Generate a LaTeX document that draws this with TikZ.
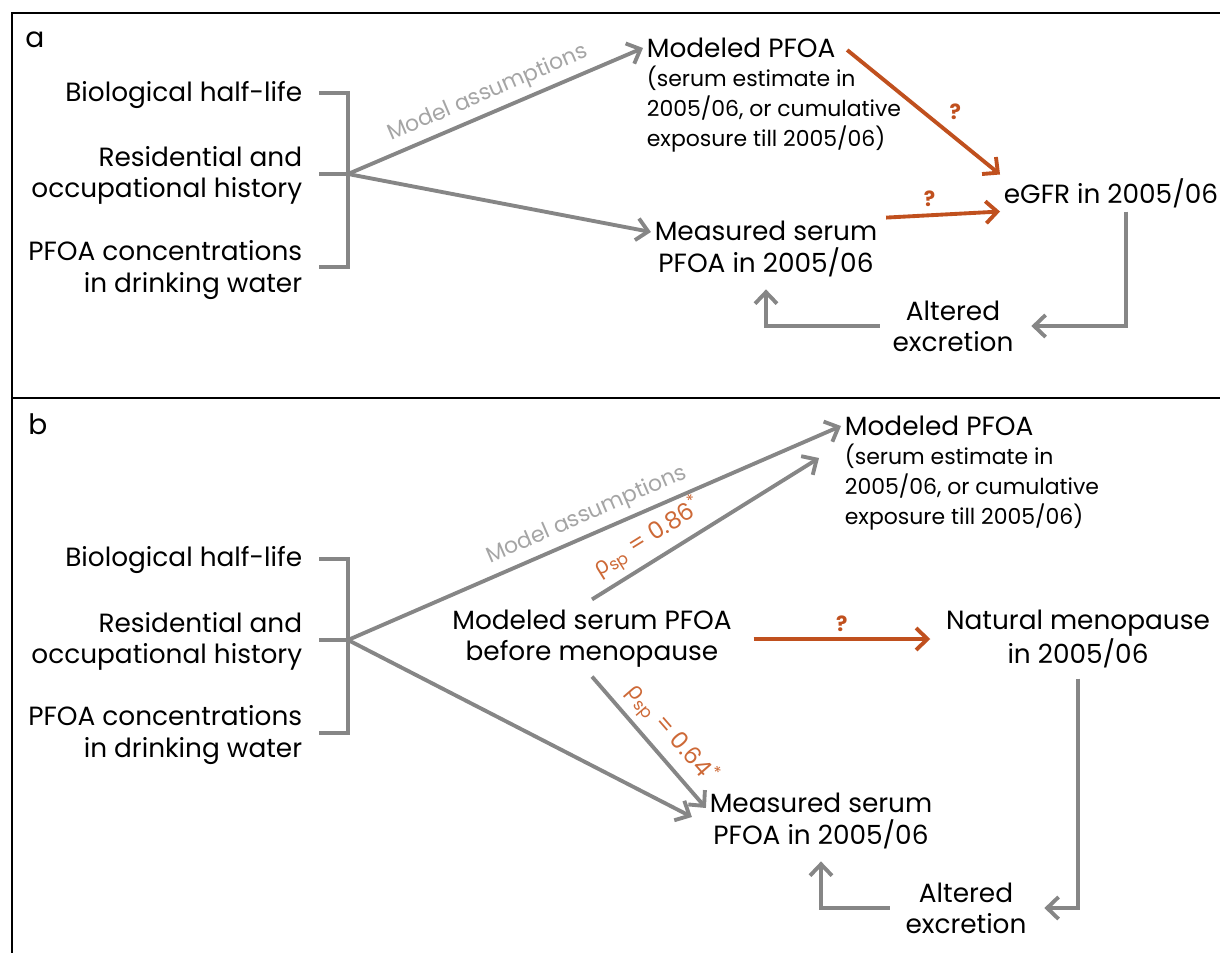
\documentclass[tikz,border=0pt]{standalone}
\usepackage{fontspec}
\setmainfont{Poppins}
\newfontfamily\greekfont{Open Sans}
\usetikzlibrary{arrows.meta,calc}
\definecolor{linegray}{RGB}{134,134,134}
\definecolor{labelgray}{RGB}{165,165,165}
\definecolor{rust}{RGB}{192,80,30}
\definecolor{rholabel}{RGB}{205,105,55}
\newcommand{\rhosp}[1]{{\greekfont ρ}\textsubscript{sp} = #1\textsuperscript{*}}

\begin{document}
\begin{tikzpicture}[x=0.02cm,y=-0.02cm,
	txt/.style={font=\fontsize{15}{17.7}\selectfont, inner sep=2pt},
	subtxt/.style={font=\fontsize{12.5}{17}\selectfont, inner sep=2pt, align=left},
	link/.style={draw=linegray, line width=2.2pt},
	arr/.style={link, -{Straight Barb[length=6.5pt,width=12.5pt]}},
	redarr/.style={draw=rust, line width=2.2pt, -{Straight Barb[length=6.5pt,width=12.5pt]}},
	tag/.style={font=\fontsize{12.5}{14}\selectfont, text=labelgray, sloped, above},
	qmark/.style={font=\bfseries\fontsize{12}{14}\selectfont, text=rust},
	rho/.style={font=\fontsize{13.5}{15}\selectfont, text=rholabel, sloped, above}]
		\useasboundingbox (0,0) rectangle (1220,953);

		% Panel frames
		\draw[line width=1.7pt] (1220,13) -- (12,13) -- (12,953);
		\draw[line width=1.7pt] (12,398) -- (1220,398);

		% Panel a
		\node[font=\fontsize{16}{18}\selectfont] (labA) at (35,40) {a};
		\node[txt, anchor=east] (bioA) at (306,95) {Biological half-life};
		\node[txt, anchor=east, align=right] (resA) at (306,175) {Residential and\\occupational history};
		\node[txt, anchor=east, align=right] (concA) at (306,270) {PFOA concentrations\\in drinking water};
		\coordinate (hubA) at (348,174);
		\draw[link] (319,93) -| (348,267) -- (319,267);
		\draw[link] (319,174) -- (hubA);

		\node[txt, anchor=west] (modA) at (643,48) {Modeled PFOA};
		\node[subtxt, anchor=north west] (modAsub) at (643,62) {(serum estimate in\\2005/06, or cumulative\\exposure till 2005/06)};
		\node[txt, align=center] (measA) at (766,249) {Measured serum\\PFOA in 2005/06};
		\node[txt] (eGFR) at (1111,193) {eGFR in 2005/06};
		\node[txt, align=center] (altA) at (953,326) {Altered\\excretion};

		\draw[arr] (hubA) -- node[tag, midway] {Model assumptions} (modA.west);
		\draw[arr] (hubA) -- ($(measA.west)+(0,-17)$);
		\draw[redarr] ($(modA.east)+(8,2)$) -- node[qmark, pos=0.62, above right] {?} (eGFR.north west);
		\draw[redarr] ($(measA.north east)+(5,0)$) -- node[qmark, above left] {?} (eGFR.south west);
		\draw[arr] ($(eGFR.south)+(15,0)$) |- ($(altA.east)+(14,0)$);
		\draw[arr] ($(altA.west)+(-9,0)$) -| ($(measA.south)+(0,9)$);

		% Panel b
		\node[font=\fontsize{16}{18}\selectfont] (labB) at (38,424) {b};
		\node[txt, anchor=east] (bioB) at (306,560) {Biological half-life};
		\node[txt, anchor=east, align=right] (resB) at (306,641) {Residential and\\occupational history};
		\node[txt, anchor=east, align=right] (concB) at (306,735) {PFOA concentrations\\in drinking water};
		\coordinate (hubB) at (348,640);
		\draw[link] (319,559) -| (348,733) -- (319,733);
		\draw[link] (319,640) -- (hubB);

		\node[txt, anchor=west] (modB) at (841,426) {Modeled PFOA};
		\node[subtxt, anchor=north west] (modBsub) at (841,440) {(serum estimate in\\2005/06, or cumulative\\exposure till 2005/06)};
		\node[txt, align=center] (preB) at (592,639) {Modeled serum PFOA\\before menopause};
		\node[txt, align=center] (natB) at (1078,639) {Natural menopause\\in 2005/06};
		\node[txt, align=center] (measB) at (821,821) {Measured serum\\PFOA in 2005/06};
		\node[txt, align=center] (altB) at (966,908) {Altered\\excretion};

		\draw[arr] (hubB) -- node[tag, midway] {Model assumptions} (modB.west);
		\draw[arr] (hubB) -- ($(measB.west)+(-14,-4)$);
		\draw[arr] ($(preB.north)+(0,-7)$) -- node[rho, pos=0.3] {\rhosp{0.86}} ($(modBsub.north west)+(-22,18)$);
		\draw[arr] ($(preB.south)+(0,5)$) -- node[rho, pos=0.55] {\rhosp{0.64}} ($(measB.west)+(0,-13)$);
		\draw[redarr] ($(preB.east)+(18,0)$) -- node[qmark, above] {?} ($(natB.west)+(-12,0)$);
		\draw[arr] ($(natB.south)+(0,7)$) |- ($(altB.east)+(14,0)$);
		\draw[arr] ($(altB.west)+(-12,0)$) -| ($(measB.south)+(0,9)$);
\end{tikzpicture}
\end{document}
